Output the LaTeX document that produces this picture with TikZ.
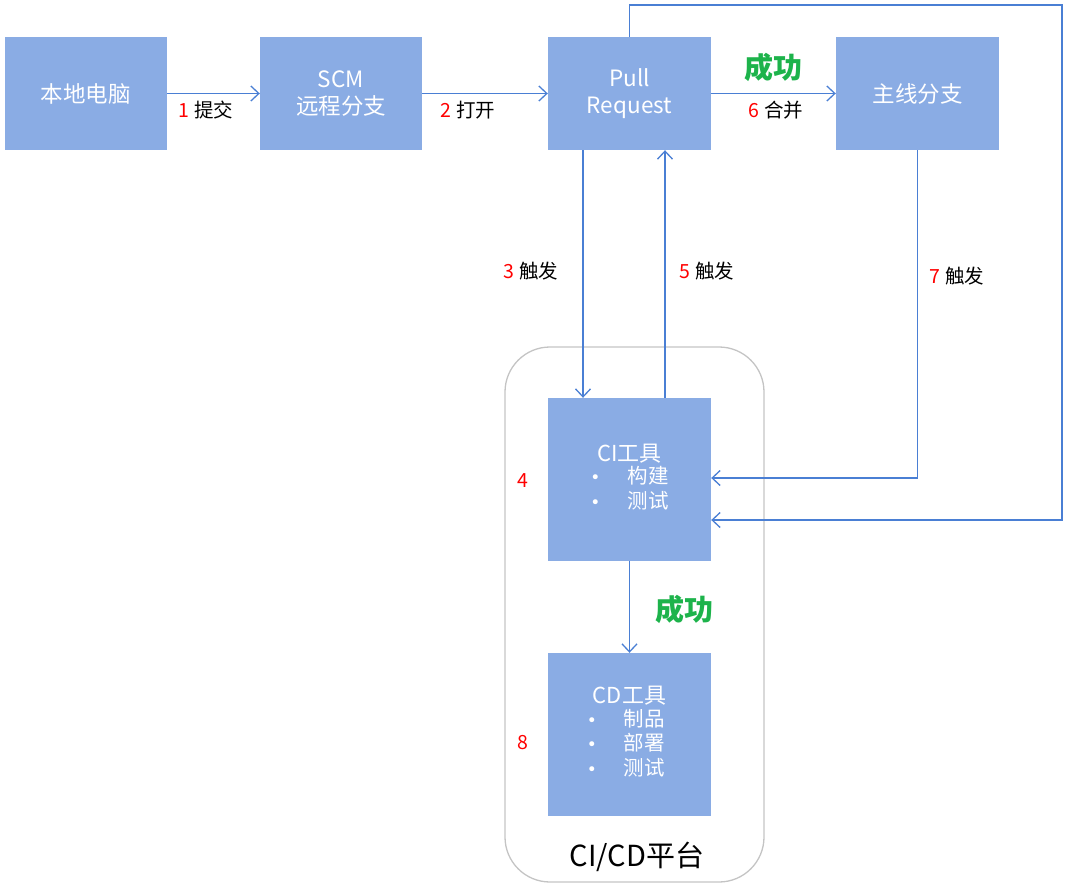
\documentclass[tikz,border=0pt]{standalone}
\usepackage{fontspec}
\setmainfont{Noto Sans CJK SC}
\newfontfamily\bulfont{DejaVu Sans}
\usetikzlibrary{arrows.meta}
\definecolor{boxblue}{HTML}{8AACE4}
\definecolor{lineblue}{HTML}{4A7FD4}
\definecolor{okgreen}{HTML}{1DB34B}
\definecolor{platgray}{HTML}{C4C4C4}
\newcommand{\cibul}{{\bulfont\fontsize{17}{20}\selectfont •}}
\begin{document}
\begin{tikzpicture}[x=1pt,y=-1pt,
  box/.style={rectangle, fill=boxblue, draw=none, text=white, minimum width=162, minimum height=113, inner sep=0pt, align=center, font=\fontsize{22.5}{27}\selectfont},
  bigbox/.style={box, minimum width=163, minimum height=163, font=\fontsize{20.5}{24.5}\selectfont},
  arr/.style={draw=lineblue, line width=1.3pt, -{Straight Barb[length=8pt,width=15pt,line width=1.3pt]}},
  lab/.style={inner sep=0pt, font=\fontsize{19.5}{22}\selectfont},
  ok/.style={inner sep=0pt, text=okgreen, font=\fontsize{29}{32}\selectfont\bfseries},
  num/.style={text=red}]
\useasboundingbox (0,0) rectangle (1080,888);
% platform
\draw[platgray, line width=1.3pt, rounded corners=45] (505,347) rectangle (764,882);
\node[inner sep=0pt, font=\fontsize{29}{32}\selectfont] (plat) at (637,857) {CI/CD平台};
% boxes
\node[box] (local) at (86,93.5) {本地电脑};
\node[box] (scm) at (341,93.5) {SCM\\远程分支};
\node[box, minimum width=163] (pr) at (629.5,93.5) {Pull\\Request};
\node[box, minimum width=163] (main) at (917.5,93.5) {主线分支};
\node[bigbox] (ci) at (629.5,479.5) {\begin{tabular}{@{}l@{\hspace{27pt}}l@{}}\multicolumn{2}{c}{\fontsize{22}{24}\selectfont CI工具}\\[-2pt] \cibul&构建\\ \cibul&测试\end{tabular}};
\node[bigbox] (cd) at (629.5,734.5) {\begin{tabular}{@{}l@{\hspace{27pt}}l@{}}\multicolumn{2}{c}{\fontsize{22}{24}\selectfont CD工具}\\[-2pt] \cibul&制品\\ \cibul&部署\\ \cibul&测试\end{tabular}};
% helper coordinates
\coordinate (xdown) at (583,0);
\coordinate (xup) at (665,0);
\coordinate (tr) at (1062,5);
\coordinate (br) at (1062,520);
\coordinate (y7) at (0,478);
% connectors
\draw[arr] (local) -- (scm);
\draw[arr] (scm) -- (pr);
\draw[arr] (pr) -- (main);
\draw[arr] (pr.south -| xdown) -- (ci.north -| xdown);
\draw[arr] (ci.north -| xup) -- (pr.south -| xup);
\draw[arr] (main.south) |- (ci.east |- y7);
\draw[arr] (pr.north) |- (tr) |- (ci.east |- br);
\draw[arr] (ci) -- (cd);
% labels
\node[lab] (l1) at (206,110) {\textcolor{red}{1} 提交};
\node[lab] (l2) at (468,110) {\textcolor{red}{2} 打开};
\node[ok] (ok1) at (773,67) {成功};
\node[lab] (l6) at (776,110) {\textcolor{red}{6} 合并};
\node[lab] (l3) at (531,271) {\textcolor{red}{3} 触发};
\node[lab] (l5) at (707,271) {\textcolor{red}{5} 触发};
\node[lab] (l7) at (957,276) {\textcolor{red}{7} 触发};
\node[lab, text=red] (l4) at (523,481) {4};
\node[lab, text=red] (l8) at (523,743) {8};
\node[ok] (ok2) at (684,609) {成功};
\end{tikzpicture}
\end{document}
